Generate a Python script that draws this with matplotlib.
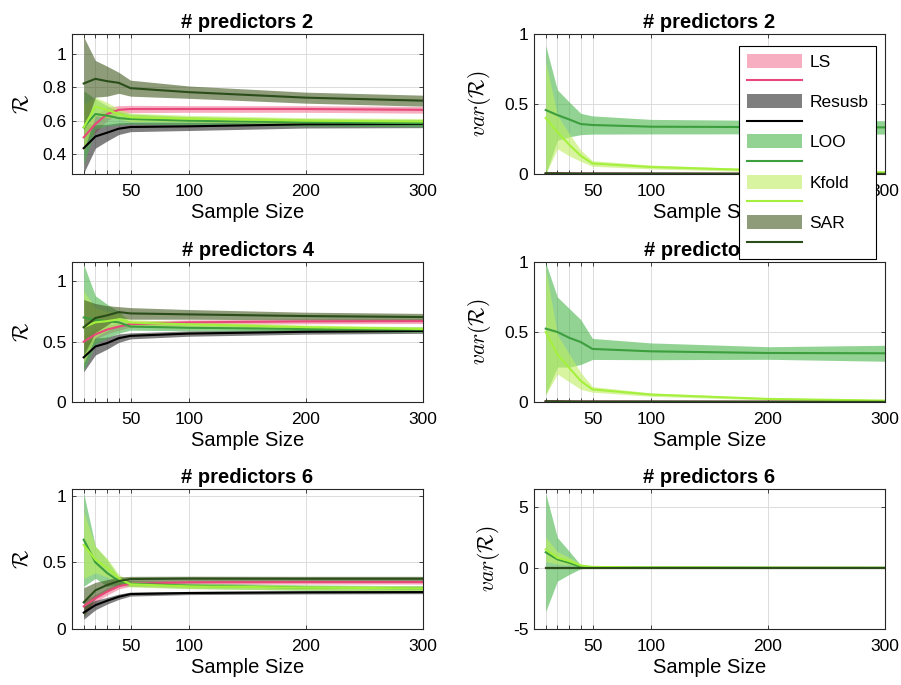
import numpy as np
import matplotlib.pyplot as plt

plt.rcParams['font.family'] = ['Liberation Sans', 'DejaVu Sans']
plt.rcParams['mathtext.fontset'] = 'cm'

# sample sizes and methods
sample_size = [10, 20, 30, 40, 50, 100, 200, 300]
methods = ['LS', 'Resusb', 'LOO', 'Kfold', 'SAR']
predictors = [2, 4, 6]

fill_colors = ['#f07896', '#2a2a2a', '#49b64d', '#beee61', '#435a21']
line_colors = ['#e8487a', '#000000', '#3c9e3c', '#a4f03c', '#2a4d1a']

# R estimate (mean / spread), rows follow `methods`
r_mean_p2 = [[0.50, 0.58, 0.64, 0.665, 0.67, 0.67, 0.67, 0.665],
             [0.435, 0.505, 0.528, 0.552, 0.562, 0.566, 0.578, 0.58],
             [0.56, 0.64, 0.63, 0.615, 0.61, 0.60, 0.59, 0.585],
             [0.56, 0.685, 0.665, 0.64, 0.62, 0.612, 0.60, 0.595],
             [0.823, 0.851, 0.837, 0.827, 0.795, 0.771, 0.738, 0.72]]
r_std_p2 = [[0.06, 0.05, 0.04, 0.025, 0.022, 0.02, 0.02, 0.02],
            [0.15, 0.07, 0.05, 0.035, 0.028, 0.025, 0.022, 0.022],
            [0.22, 0.09, 0.06, 0.04, 0.03, 0.025, 0.022, 0.022],
            [0.14, 0.055, 0.045, 0.03, 0.025, 0.02, 0.018, 0.018],
            [0.28, 0.11, 0.09, 0.063, 0.048, 0.037, 0.033, 0.033]]

r_mean_p4 = [[0.50, 0.56, 0.60, 0.625, 0.645, 0.66, 0.668, 0.67],
             [0.37, 0.46, 0.488, 0.529, 0.548, 0.567, 0.582, 0.589],
             [0.70, 0.68, 0.67, 0.66, 0.625, 0.615, 0.605, 0.60],
             [0.62, 0.66, 0.67, 0.685, 0.658, 0.644, 0.62, 0.605],
             [0.619, 0.696, 0.718, 0.745, 0.734, 0.726, 0.712, 0.704]]
r_std_p4 = [[0.05, 0.04, 0.035, 0.03, 0.025, 0.02, 0.02, 0.02],
            [0.12, 0.07, 0.05, 0.035, 0.025, 0.022, 0.02, 0.02],
            [0.44, 0.2, 0.14, 0.09, 0.03, 0.025, 0.022, 0.022],
            [0.3, 0.12, 0.08, 0.05, 0.025, 0.02, 0.018, 0.018],
            [0.23, 0.12, 0.08, 0.045, 0.048, 0.04, 0.032, 0.03]]

r_mean_p6 = [[0.17, 0.23, 0.28, 0.32, 0.34, 0.35, 0.352, 0.352],
             [0.123, 0.179, 0.212, 0.242, 0.262, 0.27, 0.275, 0.277],
             [0.67, 0.50, 0.42, 0.36, 0.34, 0.325, 0.31, 0.305],
             [0.63, 0.52, 0.46, 0.38, 0.335, 0.32, 0.31, 0.305],
             [0.20, 0.29, 0.33, 0.36, 0.375, 0.378, 0.377, 0.377]]
r_std_p6 = [[0.04, 0.03, 0.025, 0.02, 0.02, 0.015, 0.015, 0.015],
            [0.05, 0.035, 0.025, 0.02, 0.015, 0.012, 0.012, 0.012],
            [0.35, 0.12, 0.10, 0.03, 0.02, 0.02, 0.02, 0.02],
            [0.25, 0.10, 0.07, 0.03, 0.02, 0.018, 0.018, 0.018],
            [0.11, 0.06, 0.04, 0.03, 0.02, 0.018, 0.018, 0.018]]

# variance of R
v_mean_p2 = [[0.004, 0.004, 0.003, 0.003, 0.003, 0.002, 0.002, 0.002],
             [0.003, 0.003, 0.002, 0.002, 0.002, 0.002, 0.001, 0.001],
             [0.457, 0.421, 0.39, 0.357, 0.35, 0.338, 0.335, 0.333],
             [0.40, 0.30, 0.21, 0.13, 0.075, 0.05, 0.025, 0.012],
             [0.004, 0.003, 0.003, 0.002, 0.002, 0.002, 0.001, 0.001]]
v_std_p2 = [[0.003, 0.003, 0.002, 0.002, 0.002, 0.001, 0.001, 0.001],
            [0.003, 0.002, 0.002, 0.002, 0.001, 0.001, 0.001, 0.001],
            [0.46, 0.18, 0.125, 0.076, 0.065, 0.052, 0.048, 0.048],
            [0.40, 0.12, 0.08, 0.04, 0.02, 0.014, 0.01, 0.008],
            [0.003, 0.002, 0.002, 0.002, 0.001, 0.001, 0.001, 0.001]]

v_mean_p4 = [[0.004, 0.004, 0.003, 0.003, 0.003, 0.002, 0.002, 0.002],
             [0.003, 0.003, 0.002, 0.002, 0.002, 0.002, 0.001, 0.001],
             [0.524, 0.50, 0.459, 0.428, 0.379, 0.362, 0.35, 0.348],
             [0.50, 0.34, 0.245, 0.15, 0.09, 0.053, 0.022, 0.01],
             [0.004, 0.003, 0.003, 0.002, 0.002, 0.002, 0.001, 0.001]]
v_std_p4 = [[0.003, 0.003, 0.002, 0.002, 0.002, 0.001, 0.001, 0.001],
            [0.003, 0.002, 0.002, 0.002, 0.001, 0.001, 0.001, 0.001],
            [0.47, 0.25, 0.21, 0.16, 0.075, 0.06, 0.045, 0.057],
            [0.45, 0.14, 0.10, 0.06, 0.02, 0.012, 0.008, 0.006],
            [0.003, 0.002, 0.002, 0.002, 0.001, 0.001, 0.001, 0.001]]

v_mean_p6 = [[0.01, 0.01, 0.01, 0.01, 0.01, 0.01, 0.01, 0.01],
             [0.01, 0.01, 0.01, 0.01, 0.01, 0.01, 0.01, 0.01],
             [1.3, 0.72, 0.44, 0.10, 0.08, 0.06, 0.04, 0.03],
             [1.54, 0.85, 0.58, 0.22, 0.10, 0.06, 0.04, 0.03],
             [0.01, 0.01, 0.01, 0.01, 0.01, 0.01, 0.01, 0.01]]
v_std_p6 = [[0.01, 0.01, 0.01, 0.01, 0.01, 0.01, 0.01, 0.01],
            [0.01, 0.01, 0.01, 0.01, 0.01, 0.01, 0.01, 0.01],
            [4.86, 1.79, 0.96, 0.15, 0.06, 0.05, 0.04, 0.03],
            [1.0, 0.5, 0.3, 0.10, 0.04, 0.03, 0.02, 0.02],
            [0.01, 0.01, 0.01, 0.01, 0.01, 0.01, 0.01, 0.01]]

panels = [
    (r_mean_p2, r_std_p2, v_mean_p2, v_std_p2, (0.28, 1.12), [0.4, 0.6, 0.8, 1], (0, 1), [0, 0.5, 1]),
    (r_mean_p4, r_std_p4, v_mean_p4, v_std_p4, (0, 1.16), [0, 0.5, 1], (0, 1), [0, 0.5, 1]),
    (r_mean_p6, r_std_p6, v_mean_p6, v_std_p6, (0, 1.05), [0, 0.5, 1], (-5, 6.5), [-5, 0, 5]),
]

W, H = 901, 685
fig = plt.figure(figsize=(W / 100, H / 100), dpi=100)

row_top = [34, 262, 489]
col_left = [72, 534]
ax_w, ax_h = 351, 140

x = np.array(sample_size)
xlabels = ['', '', '', '', '50', '100', '200', '300']
legend_handles = []

for r, (rm, rs, vm, vs, rlim, rticks, vlim, vticks) in enumerate(panels):
    for c in range(2):
        ax = fig.add_axes([col_left[c] / W, 1 - (row_top[r] + ax_h) / H, ax_w / W, ax_h / H])
        mean, std = (rm, rs) if c == 0 else (vm, vs)
        for k in range(len(methods)):
            m = np.array(mean[k])
            s = np.array(std[k])
            f = ax.fill_between(x, m - s, m + s, color=fill_colors[k], alpha=0.6, linewidth=0)
            ln, = ax.plot(x, m, color=line_colors[k], linewidth=1.5)
            if r == 0 and c == 1:
                legend_handles += [f, ln]
        ax.set_xlim(0, 300)
        ax.set_xticks(sample_size)
        ax.set_xticklabels(xlabels)
        if c == 0:
            ax.set_ylim(*rlim)
            ax.set_yticks(rticks)
            ax.set_yticklabels(['%g' % t for t in rticks])
            ax.set_ylabel(r'$\mathcal{R}$', fontsize=15.5, labelpad=6)
        else:
            ax.set_ylim(*vlim)
            ax.set_yticks(vticks)
            ax.set_yticklabels(['%g' % t for t in vticks])
            ax.set_ylabel(r'$var(\mathcal{R})$', fontsize=15.5, labelpad=8)
        ax.set_xlabel('Sample Size', fontsize=14.5, labelpad=3)
        ax.set_title('# predictors %d' % predictors[r], fontsize=14.5, fontweight='bold', pad=4)
        ax.grid(True, color='#dcdcdc', linewidth=0.7)
        ax.set_axisbelow(True)
        ax.tick_params(direction='in', top=True, right=True, length=3, width=0.6,
                       color='#262626', labelsize=12.5, pad=4)
        ax.tick_params(axis='x', pad=7)
        for sp in ax.spines.values():
            sp.set_color('#262626')
            sp.set_linewidth(0.8)

labels = []
for name in methods:
    labels += [name, '']
leg = fig.legend(legend_handles, labels, loc='upper left',
                 bbox_to_anchor=(739 / W, 1 - 46 / H), bbox_transform=fig.transFigure,
                 fontsize=12.5, fancybox=False, framealpha=1, edgecolor='black',
                 handlelength=3.2, handleheight=0.86, handletextpad=0.4,
                 labelspacing=0.24, borderpad=0.44, borderaxespad=0)
leg.get_frame().set_linewidth(0.8)
leg.set_zorder(10)

fig.savefig('out.png', dpi=100)
